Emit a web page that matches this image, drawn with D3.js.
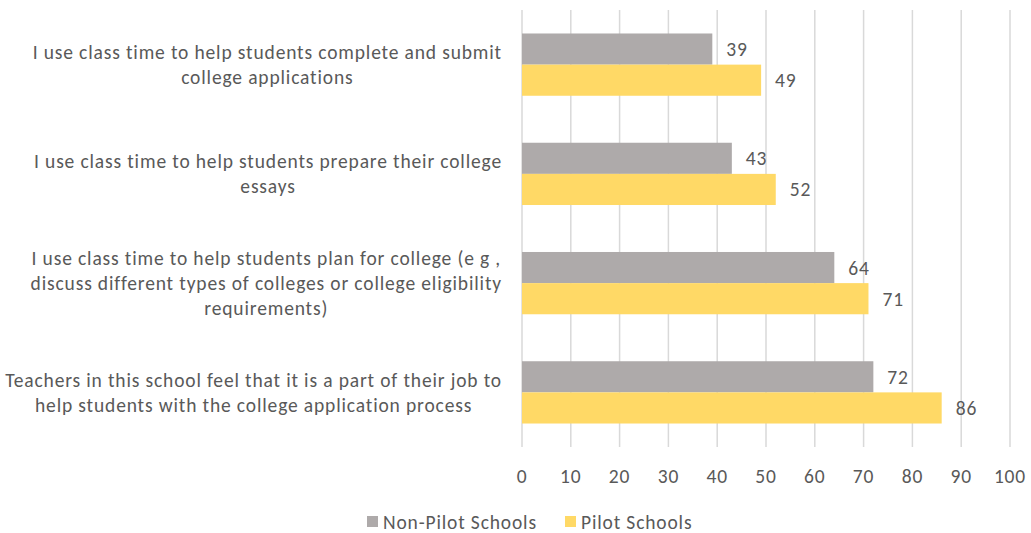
<!DOCTYPE html>
<html>
<head>
<meta charset="utf-8">
<script src="https://cdn.jsdelivr.net/npm/d3@7"></script>
<style>
  body { margin: 0; background: #fff; }
  text { font-family: Carlito, "Open Sans", "Liberation Sans", sans-serif; fill: #595959; }
</style>
</head>
<body>
<div id="chart"></div>
<script>
const categories = [
  ['I use class time to help students complete and submit', 'college applications'],
  ['I use class time to help students prepare their college', 'essays'],
  ['I use class time to help students plan for college (e g ,', 'discuss different types of colleges or college eligibility', 'requirements)'],
  ['Teachers in this school feel that it is a part of their job to', 'help students with the college application process']
];
const nonPilot = [39, 43, 64, 72];
const pilot = [49, 52, 71, 86];
const seriesNames = ['Non-Pilot Schools', 'Pilot Schools'];
const seriesColors = ['#AEAAAA', '#FFD966'];
const ticks = d3.range(0, 101, 10);

const width = 1031, height = 533;
const margin = { top: 10, right: 21, bottom: 86, left: 522 };
const fontSize = '19.5px', spacing = '0.85px';

const svg = d3.select('#chart').append('svg')
  .attr('width', width)
  .attr('height', height);

const x = d3.scaleLinear().domain([0, 100]).range([margin.left, width - margin.right]);
const y = d3.scaleBand().domain(d3.range(categories.length))
  .range([margin.top, height - margin.bottom])
  .paddingInner(0.43).paddingOuter(0.215);
const sub = d3.scaleBand().domain([0, 1]).range([0, y.bandwidth()]);

// gridlines
svg.append('g').selectAll('line')
  .data(ticks)
  .enter().append('line')
  .attr('x1', d => x(d)).attr('x2', d => x(d))
  .attr('y1', margin.top).attr('y2', height - margin.bottom)
  .attr('stroke', '#D9D9D9').attr('stroke-width', 1.5);

// tick labels
svg.append('g').selectAll('text')
  .data(ticks)
  .enter().append('text')
  .attr('x', d => x(d))
  .attr('y', 476)
  .attr('dy', '0.36em')
  .attr('text-anchor', 'middle')
  .style('font-size', fontSize)
  .style('letter-spacing', spacing)
  .text(d => d);

const rows = categories.map((c, i) => ({ i, vals: [nonPilot[i], pilot[i]] }));

const group = svg.append('g').selectAll('g')
  .data(rows)
  .enter().append('g')
  .attr('transform', d => `translate(0,${y(d.i)})`);

group.selectAll('rect')
  .data(d => d.vals)
  .enter().append('rect')
  .attr('x', x(0))
  .attr('y', (d, j) => sub(j))
  .attr('width', d => x(d) - x(0))
  .attr('height', sub.bandwidth())
  .attr('fill', (d, j) => seriesColors[j]);

group.selectAll('text.val')
  .data(d => d.vals)
  .enter().append('text')
  .classed('val', true)
  .attr('x', d => x(d) + 14)
  .attr('y', (d, j) => sub(j) + sub.bandwidth() / 2)
  .attr('dy', '0.36em')
  .style('font-size', fontSize)
  .style('letter-spacing', spacing)
  .text(d => d);

// category labels: block right-aligned, lines centered
const lineH = 25;
const labelRight = 502;
const labels = svg.append('g');
categories.forEach((lines, i) => {
  const g = labels.append('g');
  const cy = y(i) + y.bandwidth() / 2;
  const tx = lines.map((l, k) => g.append('text')
    .attr('y', cy + (k - (lines.length - 1) / 2) * lineH)
    .attr('dy', '0.36em')
    .attr('text-anchor', 'middle')
    .style('font-size', fontSize)
    .style('letter-spacing', spacing)
    .text(l));
  const w = d3.max(tx, t => t.node().getComputedTextLength());
  tx.forEach(t => t.attr('x', labelRight - w / 2));
});

// legend
const legendItems = [{ name: seriesNames[0], color: seriesColors[0], x: 367 }, { name: seriesNames[1], color: seriesColors[1], x: 565 }];
const legend = svg.append('g').selectAll('g')
  .data(legendItems)
  .enter().append('g')
  .attr('transform', d => `translate(${d.x},516)`);
legend.append('rect').attr('width', 11).attr('height', 11).attr('fill', d => d.color);
legend.append('text').attr('x', 16).attr('y', 5.5).attr('dy', '0.36em')
  .style('font-size', fontSize).style('letter-spacing', spacing).text(d => d.name);
</script>
</body>
</html>
